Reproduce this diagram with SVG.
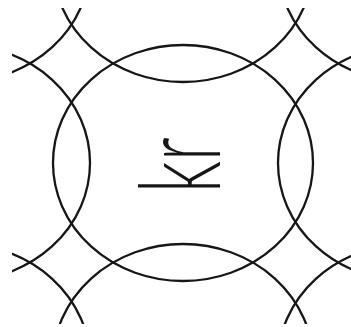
<svg xmlns="http://www.w3.org/2000/svg" width="351" height="327" viewBox="0 0 351 327">
  <style>
    .c { fill: none; stroke: #161616; stroke-width: 2.3; }
    .t { font-family: Lato, "Liberation Sans", sans-serif; font-weight: 300; font-size: 112px; fill: #161616; }
  </style>
  <defs>
    <clipPath id="clip">
      <rect x="12" y="8" width="339" height="316"/>
    </clipPath>
  </defs>
  <rect width="351" height="327" fill="#ffffff"/>
  <g id="circles" clip-path="url(#clip)">
    <ellipse id="center" class="c" cx="183" cy="163" rx="130" ry="118"/>
    <ellipse id="left" class="c" cx="-40" cy="163" rx="130" ry="118"/>
    <ellipse id="right" class="c" cx="408" cy="163" rx="130" ry="118"/>
    <ellipse id="top" class="c" cx="183" cy="-36" rx="130" ry="118"/>
    <ellipse id="bottom" class="c" cx="183" cy="362" rx="130" ry="118"/>
    <ellipse id="top-left" class="c" cx="-40" cy="-36" rx="130" ry="118"/>
    <ellipse id="top-right" class="c" cx="408" cy="-36" rx="130" ry="118"/>
    <ellipse id="bottom-left" class="c" cx="-40" cy="362" rx="130" ry="118"/>
    <ellipse id="bottom-right" class="c" cx="408" cy="362" rx="130" ry="118"/>
  </g>
  <g id="label">
    <text class="t" transform="translate(220,193) rotate(-90) scale(0.6,1)" x="0" y="0">kr</text>
  </g>
</svg>
